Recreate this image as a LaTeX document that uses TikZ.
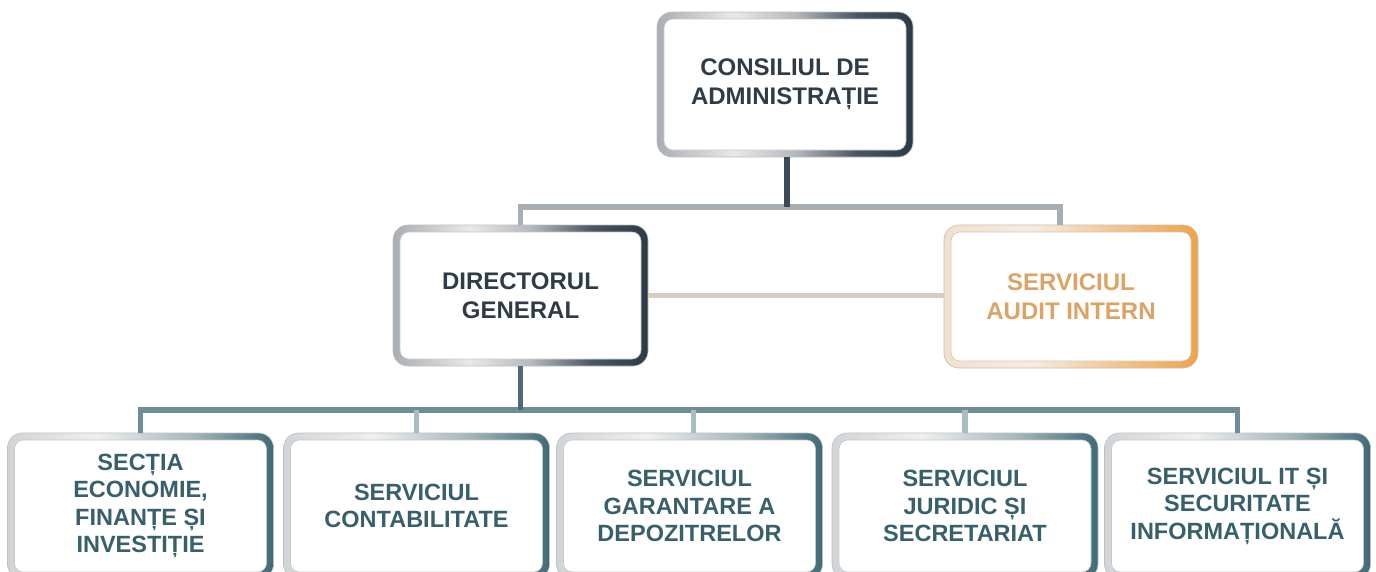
\documentclass[tikz,border=0pt]{standalone}
\usepackage{fontspec}
\setmainfont{Liberation Sans}
\usetikzlibrary{calc}
\definecolor{mA1}{HTML}{A9AEB3}
\definecolor{mA2}{HTML}{E8E9EA}
\definecolor{mA3}{HTML}{B4B9BE}
\definecolor{mA4}{HTML}{4A5662}
\definecolor{mA5}{HTML}{2C3947}
\definecolor{mB1}{HTML}{F3DFCB}
\definecolor{mB2}{HTML}{F8ECE0}
\definecolor{mB3}{HTML}{F4C28A}
\definecolor{mB4}{HTML}{EEA446}
\definecolor{mC1}{HTML}{D0D4D7}
\definecolor{mC2}{HTML}{EEF0F1}
\definecolor{mC3}{HTML}{A3B6BC}
\definecolor{mC4}{HTML}{3E6B77}
\definecolor{txtA}{HTML}{2F3B47}
\definecolor{txtB}{HTML}{DCA366}
\definecolor{txtC}{HTML}{37606A}
\definecolor{lnDark}{HTML}{3C4A57}
\definecolor{lnGray}{HTML}{A7AEB4}
\definecolor{lnTan}{HTML}{D7CCC0}
\definecolor{lnTeal}{HTML}{6F8D97}
\definecolor{lnTealL}{HTML}{A9BCC2}
\definecolor{lnTealD}{HTML}{4F6A78}
% visible range of a declared shading on a path is 25bp..75bp
\pgfdeclarehorizontalshading{metalA}{100bp}{color(0bp)=(mA1); color(25bp)=(mA1); color(40bp)=(mA2); color(52bp)=(mA3); color(64bp)=(mA4); color(75bp)=(mA5); color(100bp)=(mA5)}
\pgfdeclarehorizontalshading{metalB}{100bp}{color(0bp)=(mB1); color(25bp)=(mB1); color(42bp)=(mB2); color(60bp)=(mB3); color(75bp)=(mB4); color(100bp)=(mB4)}
\pgfdeclarehorizontalshading{metalC}{100bp}{color(0bp)=(mC1); color(25bp)=(mC1); color(42bp)=(mC2); color(60bp)=(mC3); color(75bp)=(mC4); color(100bp)=(mC4)}
\tikzset{
  box/.style={draw=gray!50, line width=0.6pt, rounded corners=15pt, shade, shading angle=0,
    inner sep=0pt, outer sep=0pt, align=center,
    path picture={
      \fill[white, rounded corners=9pt] ([shift={(7pt,7pt)}]path picture bounding box.south west) rectangle ([shift={(-7pt,-7pt)}]path picture bounding box.north east);
      \draw[black!22, line width=0.6pt, rounded corners=9pt] ([shift={(7pt,7pt)}]path picture bounding box.south west) rectangle ([shift={(-7pt,-7pt)}]path picture bounding box.north east);
    }},
  bigbox/.style={box, font=\fontsize{24pt}{29pt}\selectfont\bfseries},
  lowbox/.style={box, shading=metalC, text=txtC, minimum width=266pt, minimum height=146pt,
    font=\fontsize{23.5pt}{27.5pt}\selectfont\bfseries},
  conn/.style={line width=5.5pt, line cap=butt},
}
\begin{document}
\begin{tikzpicture}[x=1pt, y=-1pt]
\useasboundingbox (0,0) rectangle (1376,571);
\clip (0,0) rectangle (1376,571);

\node[bigbox, shading=metalA, text=txtA, minimum width=256pt, minimum height=145pt] (cda) at (785,84.5) {CONSILIUL DE\\ADMINISTRAȚIE};
\node[bigbox, shading=metalA, text=txtA, minimum width=255pt, minimum height=141pt] (dg) at (520.5,295.5) {DIRECTORUL\\GENERAL};
\node[bigbox, shading=metalB, text=txtB, minimum width=254pt, minimum height=143pt] (audit) at (1071,296.5) {SERVICIUL\\AUDIT INTERN};

\node[lowbox] (b1) at (140.5,506) {SECȚIA\\ECONOMIE,\\FINANȚE ȘI\\INVESTIȚIE};
\node[lowbox] (b2) at (416.5,506) {SERVICIUL\\CONTABILITATE};
\node[lowbox] (b3) at (689.5,506) {SERVICIUL\\GARANTARE A\\DEPOZITRELOR};
\node[lowbox] (b4) at (965,506) {SERVICIUL\\JURIDIC ȘI\\SECRETARIAT};
\node[lowbox] (b5) at (1237.5,506) {SERVICIUL IT ȘI\\SECURITATE\\INFORMAȚIONALĂ};

\coordinate (tbus) at (787,207);
\coordinate (bbus) at (520.5,410);

% top connectors
\draw[conn, lnGray] (tbus) -| (dg.north);
\draw[conn, lnGray] (tbus) -| ([xshift=-11pt]audit.north);
\draw[conn, lnDark] ([xshift=2pt]cda.south) -- (tbus);
\draw[conn, lnTan] (dg.east) -- (dg.east -| audit.west);

% bottom connectors
\draw[conn, lnTeal] (b1.north) |- (bbus) -| (b5.north);
\draw[conn, lnTealL] (b2.north) -- (b2.north |- bbus);
\draw[conn, lnTealL] ([xshift=4pt]b3.north) -- ([xshift=4pt]b3.north |- bbus);
\draw[conn, lnTealL] (b4.north) -- (b4.north |- bbus);
\draw[conn, lnTealD] (dg.south) -- (bbus);
\end{tikzpicture}
\end{document}
